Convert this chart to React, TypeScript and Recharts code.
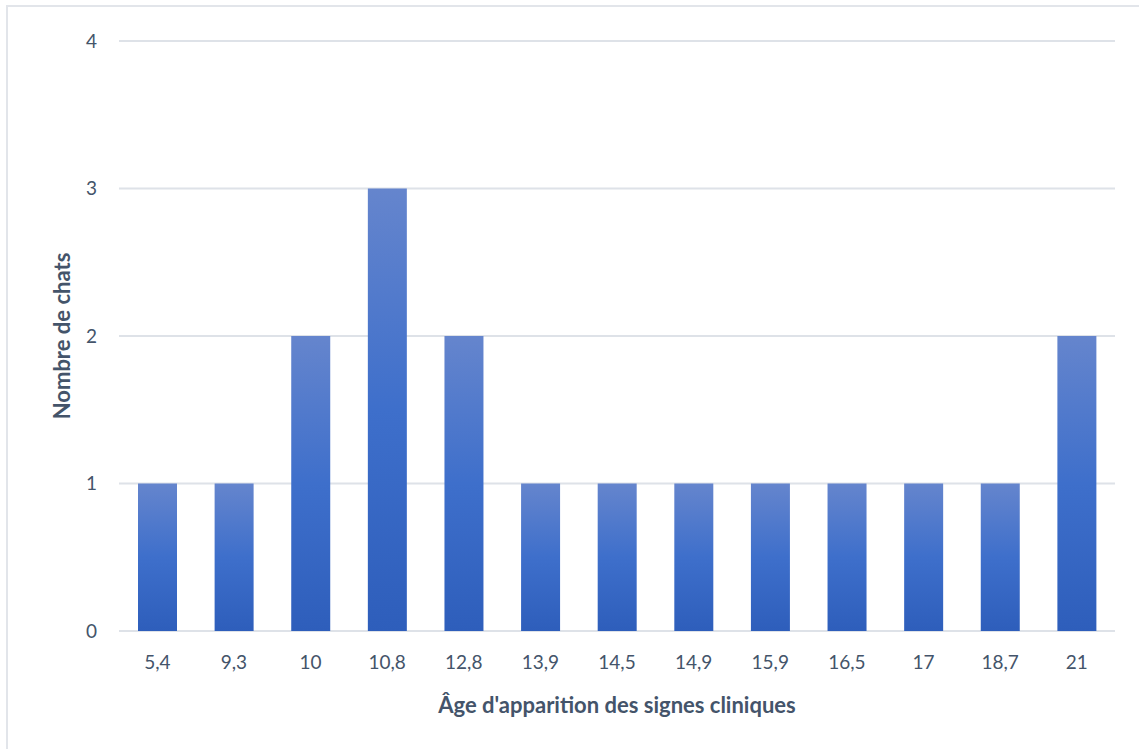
import React from "react";
import { BarChart, Bar, XAxis, YAxis, CartesianGrid, Label } from "recharts";

const categories = ["5,4", "9,3", "10", "10,8", "12,8", "13,9", "14,5", "14,9", "15,9", "16,5", "17", "18,7", "21"];
const counts = [1, 1, 2, 3, 2, 1, 1, 1, 1, 1, 1, 1, 2];
const yTicks = [0, 1, 2, 3, 4];

const data = categories.map((c, i) => ({ age: c, chats: counts[i] }));

const FONT = "Lato, 'Open Sans', sans-serif";
const TEXT = "#44546A";

export default function App() {
  return (
    <div
      style={{
        position: "fixed",
        left: 6,
        top: 5,
        width: 1133,
        height: 744,
        borderLeft: "2px solid #E2E5EA",
        borderTop: "2px solid #E2E5EA",
        background: "#fff",
        fontFamily: FONT,
      }}
    >
      <BarChart
        width={1131}
        height={742}
        data={data}
        margin={{ top: 34, right: 24, left: 0, bottom: 0 }}
        barSize={39}
      >
        <defs>
          <linearGradient id="barGrad" x1="0" y1="0" x2="0" y2="1">
            <stop offset="0%" stopColor="#6585CD" />
            <stop offset="50%" stopColor="#3E6FCB" />
            <stop offset="100%" stopColor="#2E5EBB" />
          </linearGradient>
        </defs>
        <CartesianGrid vertical={false} stroke="#DEE2E8" strokeWidth={2} />
        <XAxis
          dataKey="age"
          height={118}
          axisLine={false}
          tickLine={false}
          tickMargin={19}
          tick={{ fill: TEXT, fontSize: 19, fontFamily: FONT }}
        >
          <Label
            value="Âge d'apparition des signes cliniques"
            position="insideBottom"
            offset={36}
            style={{ fill: TEXT, fontSize: 22, fontWeight: 700, fontFamily: FONT }}
          />
        </XAxis>
        <YAxis
          width={111}
          domain={[0, 4]}
          ticks={yTicks}
          axisLine={false}
          tickLine={false}
          tickMargin={16}
          tick={{ fill: TEXT, fontSize: 19, fontFamily: FONT }}
        >
          <Label
            value="Nombre de chats"
            angle={-90}
            position="insideLeft"
            offset={54}
            style={{ textAnchor: "middle", fill: TEXT, fontSize: 22, fontWeight: 700, fontFamily: FONT }}
          />
        </YAxis>
        <Bar dataKey="chats" fill="url(#barGrad)" isAnimationActive={false} />
      </BarChart>
    </div>
  );
}
